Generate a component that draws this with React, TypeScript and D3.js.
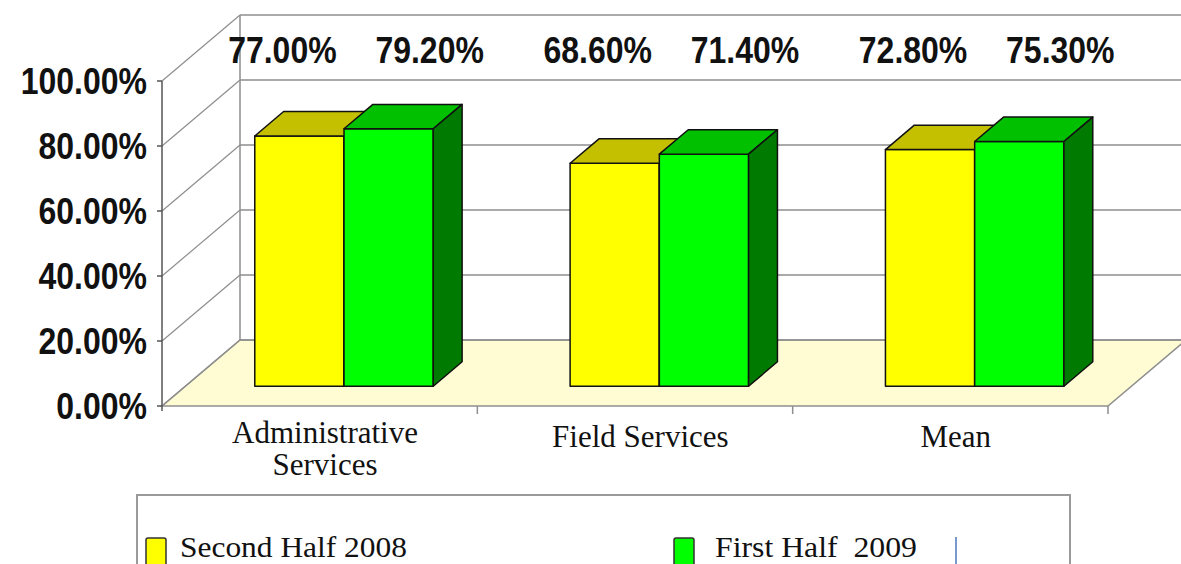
import * as d3 from "d3";
import { useEffect, useRef } from "react";

const categories = ["Administrative Services", "Field Services", "Mean"];
const categoryLines = [["Administrative", "Services"], ["Field Services"], ["Mean"]];
const seriesNames = ["Second Half 2008", "First Half  2009"];
const secondHalf2008 = [77.0, 68.6, 72.8];
const firstHalf2009 = [79.2, 71.4, 75.3];
const yTicks = [0, 20, 40, 60, 80, 100];

const seriesColors = [
  { front: "#ffff00", top: "#c4c000", side: "#8a8800" },
  { front: "#00ff00", top: "#00c000", side: "#007a00" },
];

const W = 1181;
const H = 564;

export default function App() {
  const ref = useRef<SVGSVGElement>(null);

  useEffect(() => {
    if (!ref.current) return;
    const svg = d3.select(ref.current);
    svg.selectAll("*").remove();

    // front plane of the plot and the depth vector of the 3d box
    const left = 162;
    const right = 1108;
    const depth = { dx: 78, dy: -66 };
    const grid = "#8e8e8e";

    const y = d3.scaleLinear().domain([0, 100]).range([406, 81]);
    const x = d3.scaleBand<string>().domain(categories).range([left, right]);

    // floor
    svg.append("path")
      .attr("d", `M${left},${y(0)}L${right},${y(0)}L${right + depth.dx},${y(0) + depth.dy}L${left + depth.dx},${y(0) + depth.dy}Z`)
      .attr("fill", "#fffcd4")
      .attr("stroke", grid)
      .attr("stroke-width", 1.5);

    // back wall lines + side wall diagonals
    yTicks.forEach(t => {
      svg.append("line")
        .attr("x1", left + depth.dx).attr("x2", W + 10)
        .attr("y1", y(t) + depth.dy).attr("y2", y(t) + depth.dy)
        .attr("stroke", grid).attr("stroke-width", 1.5);
      svg.append("line")
        .attr("x1", left).attr("x2", left + depth.dx)
        .attr("y1", y(t)).attr("y2", y(t) + depth.dy)
        .attr("stroke", grid).attr("stroke-width", 1.2);
      svg.append("line")
        .attr("x1", left - 5).attr("x2", left)
        .attr("y1", y(t)).attr("y2", y(t))
        .attr("stroke", "#555").attr("stroke-width", 1.5);
    });
    svg.append("line")
      .attr("x1", left + depth.dx).attr("x2", left + depth.dx)
      .attr("y1", y(100) + depth.dy).attr("y2", y(0) + depth.dy)
      .attr("stroke", grid).attr("stroke-width", 1.5);
    svg.append("line")
      .attr("x1", left).attr("x2", left)
      .attr("y1", y(100)).attr("y2", y(0) + 5)
      .attr("stroke", "#555").attr("stroke-width", 1.5);

    // category boundary ticks under floor
    [...categories.map(c => x(c)!), right].slice(1).forEach(px => {
      svg.append("line")
        .attr("x1", px).attr("x2", px)
        .attr("y1", y(0)).attr("y2", y(0) + 8)
        .attr("stroke", grid).attr("stroke-width", 1.5);
    });

    // y tick labels
    yTicks.forEach(t => {
      svg.append("text")
        .attr("transform", `translate(147,${y(t) + 13}) scale(1,1.15)`)
        .attr("text-anchor", "end")
        .attr("font-family", "'Liberation Sans', Arial, sans-serif")
        .attr("font-weight", "bold")
        .attr("font-size", 32)
        .attr("fill", "#111")
        .text(`${t.toFixed(2)}%`);
    });

    // bars
    const bw = x.bandwidth();
    const near = 0.3, far = 0.67;
    const ox = near * depth.dx, oy = near * depth.dy;
    const bdx = (far - near) * depth.dx, bdy = (far - near) * depth.dy;
    const barW = bw * 0.283;
    const series = [secondHalf2008, firstHalf2009];

    categories.forEach((c, ci) => {
      series.forEach((vals, si) => {
        const v = vals[ci];
        const x0 = x(c)! + ox + bw * 0.22 + si * barW;
        const x1 = x0 + barW;
        const top = y(v) + oy;
        const bot = y(0) + oy;
        const col = seriesColors[si];
        const g = svg.append("g")
          .attr("stroke", "#111").attr("stroke-width", 1.5).attr("stroke-linejoin", "round");
        g.append("path")
          .attr("d", `M${x0},${top}L${x1},${top}L${x1},${bot}L${x0},${bot}Z`)
          .attr("fill", col.front);
        g.append("path")
          .attr("d", `M${x0},${top}L${x0 + bdx},${top + bdy}L${x1 + bdx},${top + bdy}L${x1},${top}Z`)
          .attr("fill", col.top);
        g.append("path")
          .attr("d", `M${x1},${top}L${x1 + bdx},${top + bdy}L${x1 + bdx},${bot + bdy}L${x1},${bot}Z`)
          .attr("fill", col.side);

        // value label
        const cx = (x0 + x1) / 2 + (si === 0 ? -17 : 41);
        svg.append("text")
          .attr("transform", `translate(${cx},63) scale(1,1.13)`)
          .attr("text-anchor", "middle")
          .attr("font-family", "'Liberation Sans', Arial, sans-serif")
          .attr("font-weight", "bold")
          .attr("font-size", 32)
          .attr("fill", "#111")
          .text(`${v.toFixed(2)}%`);
      });
    });

    // category labels
    categories.forEach((c, ci) => {
      const lines = categoryLines[ci];
      const cx = x(c)! + ox + bw * (0.22 + 0.283) - 19;
      const t = svg.append("text")
        .attr("text-anchor", "middle")
        .attr("font-family", "'Liberation Serif', 'Times New Roman', serif")
        .attr("font-size", 31)
        .attr("fill", "#111");
      lines.forEach((ln, li) => {
        t.append("tspan")
          .attr("x", cx)
          .attr("y", (lines.length > 1 ? 443 : 447) + li * 32)
          .text(ln);
      });
    });

    // legend
    const lg = svg.append("g");
    lg.append("path")
      .attr("d", `M137,${H + 2}L137,495L1070,495L1070,${H + 2}`)
      .attr("fill", "none").attr("stroke", "#9a9a9a").attr("stroke-width", 2);
    const items = [
      { sw: 146, tx: 180, len: 227 },
      { sw: 674, tx: 715, len: 202 },
    ];
    seriesNames.forEach((name, i) => {
      const it = items[i];
      lg.append("rect")
        .attr("x", it.sw).attr("y", 538).attr("width", 20).attr("height", 32)
        .attr("rx", 2)
        .attr("fill", seriesColors[i].front)
        .attr("stroke", "#333").attr("stroke-width", 1.5);
      lg.append("text")
        .attr("x", it.tx).attr("y", 557)
        .attr("font-family", "'Liberation Serif', 'Times New Roman', serif")
        .attr("font-size", 30)
        .attr("textLength", it.len)
        .attr("lengthAdjust", "spacingAndGlyphs")
        .style("white-space", "pre")
        .attr("fill", "#111")
        .text(name);
    });
    lg.append("line")
      .attr("x1", 956).attr("x2", 956).attr("y1", 537).attr("y2", H)
      .attr("stroke", "#4a78b8").attr("stroke-width", 1.5);
  }, []);

  return (
    <svg
      ref={ref}
      width={W}
      height={H}
      style={{ position: "absolute", left: 0, top: 0, display: "block", background: "#fff" }}
    />
  );
}
